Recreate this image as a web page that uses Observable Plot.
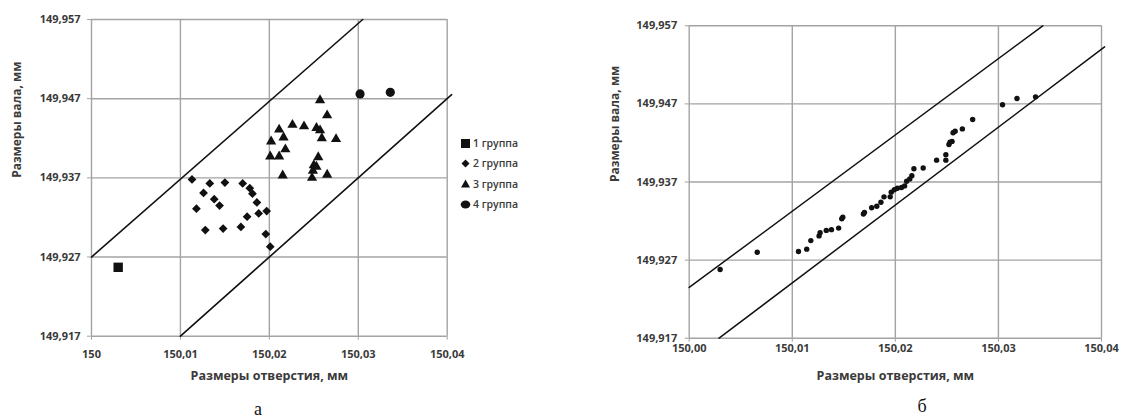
<!DOCTYPE html>
<html>
<head>
<meta charset="utf-8">
<script src="https://cdn.jsdelivr.net/npm/d3@7"></script>
<script src="https://cdn.jsdelivr.net/npm/@observablehq/plot@0.6"></script>
<style>
  html, body { margin: 0; padding: 0; background: #fff; }
  #wrap { position: relative; width: 1146px; height: 419px; overflow: hidden; font-family: "Open Sans", sans-serif; }
  .panel { position: absolute; top: 0; }
  .cap { position: absolute; font-family: "Liberation Serif", serif; font-size: 18px; color: #111; transform: translate(-50%, -50%); }
  #legend { position: absolute; left: 460px; top: 133px; font-size: 10.5px; font-weight: 600; color: #3a3a3a; }
  #legend .row { height: 20.3px; display: flex; align-items: center; }
  #legend svg { margin-right: 2px; }
</style>
</head>
<body>
<div id="wrap">
  <div id="left" class="panel" style="left:0px"></div>
  <div id="right" class="panel" style="left:600px"></div>
  <div id="legend"></div>
  <div class="cap" style="left:258px; top:409px">а</div>
  <div class="cap" style="left:922px; top:406px">б</div>
</div>
<script>
// ---------- data ----------
const xTicks = [150, 150.01, 150.02, 150.03, 150.04];
const yTicks = [149.917, 149.927, 149.937, 149.947, 149.957];
const groupNames = ["1 группа", "2 группа", "3 группа", "4 группа"];

// panel a: hole size (x) vs shaft size (y), by group
const group1X = [150.0030];
const group1Y = [149.9257];
const group2X = [150.0113, 150.0133, 150.0150, 150.0170, 150.0178, 150.0181, 150.0126, 150.0138, 150.0144, 150.0186,
                 150.0118, 150.0175, 150.0188, 150.0197, 150.0128, 150.0148, 150.0168, 150.0196, 150.0201];
const group2Y = [149.9368, 149.9363, 149.9364, 149.9363, 149.9357, 149.9350, 149.9351, 149.9343, 149.9335, 149.9339,
                 149.9331, 149.9321, 149.9325, 149.9328, 149.9304, 149.9306, 149.9308, 149.9299, 149.9283];
const group3X = [150.0257, 150.0265, 150.0226, 150.0239, 150.0211, 150.0253, 150.0257, 150.0202, 150.0216, 150.0259, 150.0275,
                 150.0218, 150.0201, 150.0211, 150.0255, 150.0250, 150.0253, 150.0249, 150.0215, 150.0265, 150.0248];
const group3Y = [149.9468, 149.9449, 149.9437, 149.9435, 149.9431, 149.9433, 149.9430, 149.9416, 149.9421, 149.9420, 149.9419,
                 149.9406, 149.9397, 149.9397, 149.9396, 149.9386, 149.9384, 149.9379, 149.9373, 149.9374, 149.9370];
const group4X = [150.0302, 150.0336];
const group4Y = [149.9476, 149.9478];

// panel б: all measured pairs
const allX = [150.0030, 150.0066, 150.0106, 150.0114, 150.0118, 150.0126, 150.0127, 150.0133, 150.0138, 150.0145,
              150.0148, 150.0149, 150.0169, 150.0170, 150.0177, 150.0182, 150.0186, 150.0189, 150.0195, 150.0196,
              150.0199, 150.0202, 150.0206, 150.0209, 150.0211, 150.0214, 150.0216, 150.0218, 150.0227, 150.0240,
              150.0249, 150.0249, 150.0252, 150.0253, 150.0255, 150.0256, 150.0258, 150.0265, 150.0275, 150.0304,
              150.0318, 150.0336];
const allY = [149.9258, 149.9280, 149.9281, 149.9284, 149.9295, 149.9301, 149.9305, 149.9308, 149.9309, 149.9311,
              149.9323, 149.9325, 149.9329, 149.9331, 149.9337, 149.9339, 149.9344, 149.9351, 149.9351, 149.9357,
              149.9360, 149.9362, 149.9363, 149.9365, 149.9371, 149.9374, 149.9378, 149.9387, 149.9388, 149.9398,
              149.9398, 149.9405, 149.9418, 149.9421, 149.9422, 149.9433, 149.9435, 149.9438, 149.9450, 149.9469,
              149.9477, 149.9479];

// tolerance-band boundary lines (endpoints)
const bandA_upper = [[150.0000, 149.9270], [150.0305, 149.9570]];
const bandA_lower = [[150.0100, 149.9170], [150.0405, 149.9475]];
const bandB_upper = [[150.0000, 149.9235], [150.0343, 149.9570]];
const bandB_lower = [[150.0029, 149.9170], [150.0403, 149.9543]];

// ---------- helpers ----------
const comma = s => s.replace(".", ",");
const fmtXA = d => d === 150 ? "150" : comma(d3.format(".2f")(d));
const fmtXB = d => comma(d3.format(".2f")(d));
const fmtY = d => comma(d3.format(".3f")(d));
const pts = (xs, ys) => xs.map((x, i) => ({x, y: ys[i]}));
const seg = a => a.map(([x, y]) => ({x, y}));

const gridColor = "#a3a3a3";
const textColor = "#3a3a3a";
const font = {fontFamily: "Open Sans, sans-serif", fontSize: "11px", fontWeight: 700, color: textColor, background: "transparent"};

function panel({width, height, ml, mr, mt, mb, fmtX, xPad, yPad, yTitleDx, xTitleDy, marks}) {
  return Plot.plot({
    width, height, marginLeft: ml, marginRight: mr, marginTop: mt, marginBottom: mb,
    style: font,
    x: {domain: [150, 150.04]},
    y: {domain: [149.917, 149.957]},
    marks: [
      Plot.gridX(xTicks, {stroke: gridColor, strokeOpacity: 1, strokeWidth: 1.4}),
      Plot.gridY(yTicks, {stroke: gridColor, strokeOpacity: 1, strokeWidth: 1.4}),
      Plot.axisX(xTicks, {tickFormat: fmtX, tickSize: 4, tickPadding: xPad, stroke: gridColor, label: null, fill: textColor}),
      Plot.axisY(yTicks, {tickFormat: fmtY, tickSize: 4, tickPadding: yPad, stroke: gridColor, label: null, fill: textColor}),
      Plot.text(["Размеры отверстия, мм"], {frameAnchor: "bottom", dy: xTitleDy, fontSize: 12.5, fontWeight: 700, fill: textColor}),
      Plot.text(["Размеры вала, мм"], {frameAnchor: "left", dx: yTitleDx, rotate: -90, fontSize: 12, fontWeight: 700, fill: textColor}),
      ...marks
    ]
  });
}

// ---------- panel a ----------
const leftPlot = panel({
  width: 480, height: 395, ml: 91, mr: 33.3, mt: 19, mb: 59.3,
  fmtX: fmtXA, xPad: 10, yPad: 7, yTitleDx: -74, xTitleDy: 43.3,
  marks: [
    Plot.line(seg(bandA_upper), {x: "x", y: "y", stroke: "#111", strokeWidth: 1.6, clip: false}),
    Plot.line(seg(bandA_lower), {x: "x", y: "y", stroke: "#111", strokeWidth: 1.6, clip: false}),
    Plot.dot(pts(group1X, group1Y), {x: "x", y: "y", symbol: "square", r: 5.3, fill: "#111"}),
    Plot.dot(pts(group2X, group2Y), {x: "x", y: "y", symbol: "square", rotate: 45, r: 3.5, fill: "#111"}),
    Plot.dot(pts(group3X, group3Y), {x: "x", y: "y", symbol: "triangle", r: 3.8, fill: "#111"}),
    Plot.dot(pts(group4X, group4Y), {x: "x", y: "y", symbol: "circle", r: 4.6, fill: "#111"})
  ]
});
document.getElementById("left").appendChild(leftPlot);

// ---------- panel б ----------
const rightPlot = panel({
  width: 546, height: 395, ml: 88.7, mr: 45, mt: 25.3, mb: 57.3,
  fmtX: fmtXB, xPad: 2, yPad: 8, yTitleDx: -73.7, xTitleDy: 41.3,
  marks: [
    Plot.line(seg(bandB_upper), {x: "x", y: "y", stroke: "#111", strokeWidth: 1.5, clip: false}),
    Plot.line(seg(bandB_lower), {x: "x", y: "y", stroke: "#111", strokeWidth: 1.5, clip: false}),
    Plot.dot(pts(allX, allY), {x: "x", y: "y", r: 2.7, fill: "#111"})
  ]
});
document.getElementById("right").appendChild(rightPlot);

// ---------- legend ----------
const legendSymbols = ["square", "diamond", "triangle", "circle"];
const legend = document.getElementById("legend");
groupNames.forEach((name, i) => {
  const row = document.createElement("div");
  row.className = "row";
  const s = d3.create("svg").attr("width", 11).attr("height", 11);
  let path;
  if (legendSymbols[i] === "square") path = s.append("rect").attr("x", 1).attr("y", 1).attr("width", 9).attr("height", 9);
  else if (legendSymbols[i] === "diamond") path = s.append("path").attr("d", "M5.5,1.5L9.5,5.5L5.5,9.5L1.5,5.5Z");
  else if (legendSymbols[i] === "triangle") path = s.append("path").attr("d", "M5.5,1.5L10,9.5L1,9.5Z");
  else path = s.append("ellipse").attr("cx", 5.5).attr("cy", 5.5).attr("rx", 4.8).attr("ry", 4);
  path.attr("fill", "#111");
  row.appendChild(s.node());
  const t = document.createElement("span");
  t.textContent = name;
  row.appendChild(t);
  legend.appendChild(row);
});
</script>
</body>
</html>
